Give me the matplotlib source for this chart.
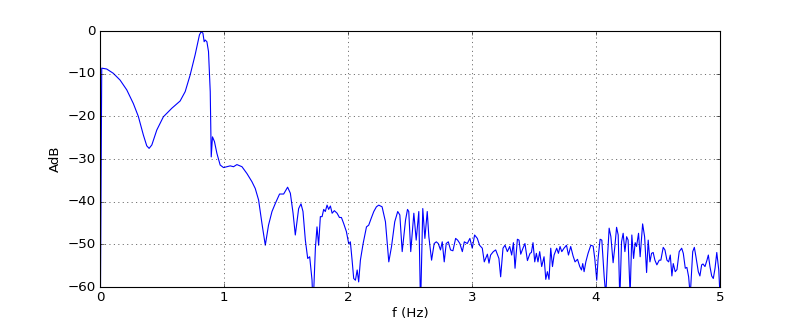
### Amplitude spectrum (dB) vs frequency

import matplotlib
matplotlib.use("Agg")
import matplotlib.pyplot as plt
import numpy as np

plt.style.use('classic')

# frequency (Hz) and amplitude (dB)
freq = [
    0.000, 0.014, 0.054, 0.107, 0.162, 0.216, 0.269, 0.309, 0.350, 0.377,
    0.396, 0.418, 0.458, 0.511, 0.579, 0.646, 0.687, 0.727, 0.767, 0.802,
    0.816, 0.830, 0.840, 0.848, 0.862, 0.875, 0.889, 0.897, 0.907, 0.923,
    0.943, 0.969, 0.996, 1.050, 1.077, 1.104, 1.145, 1.185, 1.225, 1.252,
    1.279, 1.306, 1.333, 1.359, 1.387, 1.414, 1.448, 1.481, 1.513, 1.535,
    1.557, 1.575, 1.602, 1.621, 1.637, 1.656, 1.675, 1.691, 1.710, 1.718,
    1.737, 1.750, 1.763, 1.777, 1.791, 1.804, 1.817, 1.831, 1.844, 1.858,
    1.872, 1.890, 1.912, 1.931, 1.947, 1.965, 1.987, 2.006, 2.019, 2.033,
    2.046, 2.060, 2.074, 2.086, 2.100, 2.122, 2.149, 2.167, 2.187, 2.208,
    2.229, 2.248, 2.275, 2.302, 2.329, 2.351, 2.377, 2.401, 2.418, 2.437,
    2.464, 2.480, 2.490, 2.506, 2.531, 2.550, 2.571, 2.585, 2.603, 2.620,
    2.639, 2.652, 2.674, 2.695, 2.712, 2.728, 2.746, 2.760, 2.776, 2.792,
    2.809, 2.827, 2.846, 2.868, 2.884, 2.902, 2.922, 2.938, 2.962, 2.983,
    3.002, 3.021, 3.043, 3.061, 3.083, 3.099, 3.110, 3.124, 3.137, 3.150,
    3.172, 3.191, 3.217, 3.231, 3.250, 3.266, 3.285, 3.304, 3.320, 3.334,
    3.347, 3.366, 3.379, 3.393, 3.411, 3.427, 3.447, 3.468, 3.479, 3.492,
    3.506, 3.519, 3.532, 3.546, 3.562, 3.581, 3.595, 3.608, 3.621, 3.635,
    3.649, 3.662, 3.683, 3.697, 3.710, 3.724, 3.742, 3.762, 3.778, 3.796,
    3.815, 3.831, 3.851, 3.869, 3.883, 3.893, 3.904, 3.918, 3.936, 3.958,
    3.977, 3.990, 4.006, 4.017, 4.033, 4.047, 4.066, 4.079, 4.093, 4.106,
    4.120, 4.138, 4.152, 4.166, 4.179, 4.192, 4.206, 4.219, 4.233, 4.247,
    4.259, 4.275, 4.289, 4.303, 4.316, 4.327, 4.343, 4.356, 4.376, 4.392,
    4.408, 4.421, 4.435, 4.448, 4.461, 4.475, 4.491, 4.510, 4.523, 4.542,
    4.556, 4.572, 4.586, 4.599, 4.612, 4.623, 4.639, 4.653, 4.671, 4.691,
    4.704, 4.720, 4.733, 4.747, 4.760, 4.780, 4.793, 4.806, 4.825, 4.838,
    4.852, 4.863, 4.879, 4.895, 4.906, 4.919, 4.933, 4.946, 4.960, 4.974,
    4.990, 5.000,
]
adb = [
    -80.0, -8.7, -8.9, -9.9, -11.5, -13.8, -17.0, -20.0, -24.4, -26.9,
    -27.5, -26.7, -23.2, -20.1, -18.1, -16.4, -14.2, -10.3, -5.6, -0.9,
    -0.15, -0.5, -2.5, -2.1, -2.5, -4.8, -14.2, -29.5, -24.8, -25.9,
    -28.7, -31.4, -32.0, -31.6, -31.8, -31.3, -31.8, -33.4, -35.3, -36.9,
    -39.6, -45.1, -50.2, -45.5, -42.3, -40.4, -38.2, -38.2, -36.6, -38.0,
    -42.7, -47.8, -41.6, -40.5, -42.3, -49.0, -53.3, -52.9, -58.4, -65.0,
    -50.9, -45.9, -50.2, -43.5, -43.5, -41.8, -42.3, -40.8, -41.8, -41.0,
    -42.7, -42.1, -42.7, -43.7, -43.7, -45.1, -47.0, -49.9, -49.4, -53.7,
    -58.0, -58.4, -56.0, -58.8, -53.7, -49.8, -45.9, -45.5, -43.9, -42.3,
    -41.2, -40.8, -41.2, -44.7, -54.1, -50.5, -44.7, -42.3, -43.1, -51.7,
    -44.3, -41.8, -42.3, -51.7, -42.7, -49.0, -42.3, -65.0, -41.6, -48.6,
    -42.3, -48.2, -53.7, -49.8, -49.4, -49.8, -51.3, -49.4, -54.1, -49.8,
    -49.4, -51.3, -51.5, -48.6, -49.0, -49.8, -51.7, -49.4, -49.8, -48.6,
    -50.9, -47.8, -48.6, -50.2, -50.9, -54.1, -53.3, -52.3, -54.4, -52.5,
    -51.7, -51.3, -53.3, -57.6, -50.9, -50.2, -51.7, -50.5, -52.5, -49.6,
    -55.6, -48.8, -49.0, -52.3, -50.9, -49.8, -53.8, -52.1, -51.9, -49.6,
    -54.1, -52.1, -54.1, -51.7, -55.2, -52.9, -58.2, -56.4, -58.2, -50.9,
    -55.2, -52.5, -50.9, -52.1, -50.5, -51.7, -50.9, -50.2, -52.5, -50.5,
    -52.7, -54.1, -53.5, -55.2, -56.0, -54.5, -56.4, -54.1, -52.1, -50.2,
    -50.4, -53.3, -58.4, -53.3, -48.8, -49.0, -57.6, -62.0, -52.9, -46.2,
    -48.2, -54.3, -50.5, -46.0, -47.8, -63.0, -49.4, -47.4, -51.7, -48.2,
    -49.0, -62.0, -47.8, -53.3, -49.6, -50.5, -47.4, -52.9, -45.2, -48.2,
    -56.6, -49.0, -54.1, -52.1, -51.9, -53.7, -54.8, -53.7, -53.7, -50.7,
    -51.3, -53.7, -54.1, -52.5, -57.4, -54.5, -56.4, -55.9, -51.7, -50.9,
    -52.1, -55.6, -55.4, -57.6, -62.0, -51.7, -50.7, -52.9, -56.4, -57.4,
    -54.8, -54.6, -55.2, -53.7, -52.5, -55.2, -57.4, -58.0, -55.6, -51.9,
    -56.0, -62.0,
]

# old-style 10x4 figure at 80 dpi -> 800x320 px
fig = plt.figure(figsize=(10, 4), dpi=80)
fig.subplots_adjust(left=0.125, right=0.9, bottom=0.103, top=0.903)
ax = fig.add_subplot(111)
ax.plot(freq, adb, 'b-', linewidth=1)

ax.set_xlim(0, 5)
ax.set_ylim(-60, 0)
ax.set_xticks(np.arange(0, 6, 1))
ax.set_yticks(np.arange(-60, 1, 10))
ax.set_xlabel('f (Hz)', labelpad=2)
ax.set_ylabel('AdB')
ax.grid(True)

fig.savefig('out.png', dpi=80, facecolor='white')
